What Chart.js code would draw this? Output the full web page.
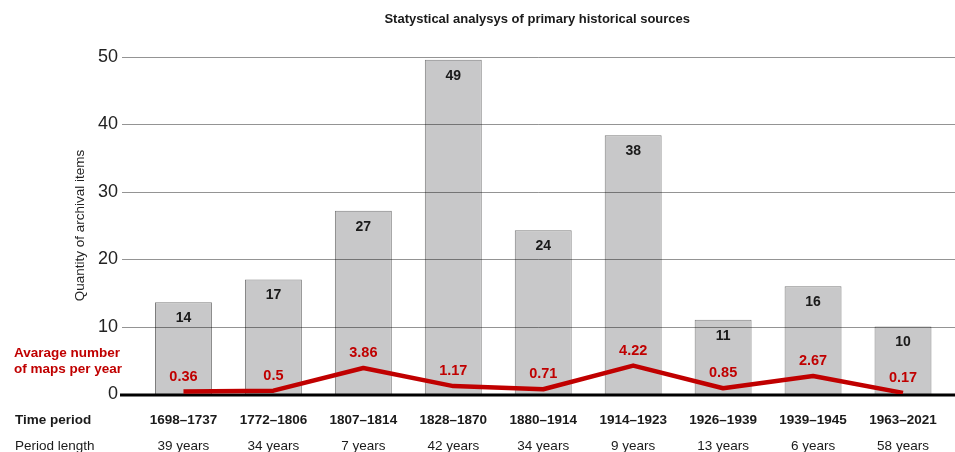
<!DOCTYPE html>
<html>
<head>
<meta charset="utf-8">
<script src="https://cdn.jsdelivr.net/npm/chart.js@4.4.1/dist/chart.umd.min.js"></script>
<style>
  html, body { margin: 0; padding: 0; background: #fff; }
  #wrap { position: relative; width: 955px; height: 452px; }
</style>
</head>
<body>
<div id="wrap"><canvas id="sourcesChart"></canvas></div>
<script>
const chartTitle = 'Statystical analysys of primary historical sources';
const periods = ['1698–1737', '1772–1806', '1807–1814', '1828–1870', '1880–1914', '1914–1923', '1926–1939', '1939–1945', '1963–2021'];
const periodLengths = ['39 years', '34 years', '7 years', '42 years', '34 years', '9 years', '13 years', '6 years', '58 years'];
// printed counts, and the bar heights as they are drawn in the source figure
const itemCounts = [14, 17, 27, 49, 24, 38, 11, 16, 10];
const barHeights = [13.6, 17, 27.2, 49.6, 24.3, 38.4, 11, 16, 10];
const mapsPerYear = [0.36, 0.5, 3.86, 1.17, 0.71, 4.22, 0.85, 2.67, 0.17];
const yMax = 50;
const yStep = 10;

const FONT = 'Arial, "Liberation Sans", sans-serif';
const RED = '#c00000';
const INK = '#1a1a1a';

Chart.defaults.font.family = FONT;
Chart.defaults.color = INK;

// gridlines sit on top of the bars, and run past the plot on both sides
const overlayPlugin = {
  id: 'overlay',
  afterDatasetDraw(chart, args) {
    if (args.meta.type !== 'bar') return;
    const ctx = chart.ctx;
    const y = chart.scales.y;
    ctx.save();
    y.ticks.forEach((t) => {
      const py = Math.round(y.getPixelForValue(t.value));
      if (t.value === 0) {
        ctx.strokeStyle = '#000';
        ctx.lineWidth = 3;
        ctx.beginPath();
        ctx.moveTo(120, py + 1);
        ctx.lineTo(chart.width, py + 1);
        ctx.stroke();
      } else {
        ctx.strokeStyle = 'rgba(0,0,0,0.42)';
        ctx.lineWidth = 1;
        ctx.beginPath();
        ctx.moveTo(122, py + 0.5);
        ctx.lineTo(chart.width, py + 0.5);
        ctx.stroke();
      }
    });

    // value labels inside the bars
    ctx.fillStyle = INK;
    ctx.font = 'bold 14px ' + FONT;
    ctx.textAlign = 'center';
    ctx.textBaseline = 'middle';
    args.meta.data.forEach((bar, i) => {
      ctx.fillText(String(itemCounts[i]), bar.x, bar.y + 16);
    });
    ctx.restore();
  },
  afterDatasetsDraw(chart) {
    const ctx = chart.ctx;
    const area = chart.chartArea;
    const lineMeta = chart.getDatasetMeta(1);
    ctx.save();
    ctx.textBaseline = 'middle';

    ctx.fillStyle = RED;
    ctx.font = 'bold 14.5px ' + FONT;
    ctx.textAlign = 'center';
    lineMeta.data.forEach((pt, i) => {
      ctx.fillText(String(mapsPerYear[i]), pt.x, pt.y - 15);
    });

    ctx.textAlign = 'left';
    ctx.font = 'bold 13.5px ' + FONT;
    ctx.fillText('Avarage number', 14, 353);
    ctx.fillText('of maps per year', 14, 369.5);

    ctx.fillStyle = INK;
    ctx.fillText('Time period', 15, 420);
    ctx.font = '13.5px ' + FONT;
    ctx.fillText('Period length', 15, 446);

    ctx.textAlign = 'center';
    ctx.font = 'bold 13px ' + FONT;
    ctx.fillText(chartTitle, (area.left + area.right) / 2 - 6, 19);
    ctx.restore();
  },
};

new Chart(document.getElementById('sourcesChart'), {
  type: 'bar',
  data: {
    labels: periods,
    datasets: [
      {
        type: 'bar',
        label: 'Quantity of archival items',
        data: barHeights,
        backgroundColor: '#c8c8c9',
        borderColor: '#7d7d7d',
        borderWidth: 1,
        barPercentage: 0.633,
        categoryPercentage: 1,
        order: 1,
      },
      {
        type: 'line',
        label: 'Avarage number of maps per year',
        data: mapsPerYear,
        borderColor: RED,
        borderWidth: 4.5,
        borderJoinStyle: 'round',
        pointRadius: 0,
        tension: 0,
        fill: false,
        order: 0,
      },
    ],
  },
  options: {
    responsive: true,
    maintainAspectRatio: false,
    animation: false,
    layout: { padding: { top: 57, right: 5.6, bottom: 0, left: 0 } },
    plugins: {
      legend: { display: false },
      tooltip: { enabled: false },
      title: { display: false },
    },
    scales: {
      x: {
        type: 'category',
        position: 'bottom',
        weight: 0,
        grid: { display: false, drawTicks: false },
        border: { display: false },
        ticks: {
          autoSkip: false,
          maxRotation: 0,
          padding: 17.9,
          color: INK,
          font: { size: 13.5, weight: 'bold' },
        },
        afterFit: (scale) => { scale.height = 32; },
      },
      x2: {
        type: 'category',
        position: 'bottom',
        weight: 1,
        labels: periodLengths,
        offset: true,
        grid: { display: false, drawTicks: false },
        border: { display: false },
        ticks: {
          autoSkip: false,
          maxRotation: 0,
          padding: 11.9,
          color: INK,
          font: { size: 13.5 },
        },
        afterFit: (scale) => { scale.height = 26; },
      },
      y: {
        min: 0,
        max: yMax,
        grid: { display: false, drawTicks: false },
        border: { display: false },
        ticks: {
          stepSize: yStep,
          padding: 20.5,
          color: '#222',
          font: { size: 18 },
        },
        title: {
          display: true,
          text: 'Quantity of archival items',
          color: '#222',
          font: { size: 13.5 },
          padding: { top: 71.9, bottom: 0 },
        },
        afterFit: (scale) => { scale.width = 138.5; },
      },
    },
  },
  plugins: [overlayPlugin],
});
</script>
</body>
</html>
